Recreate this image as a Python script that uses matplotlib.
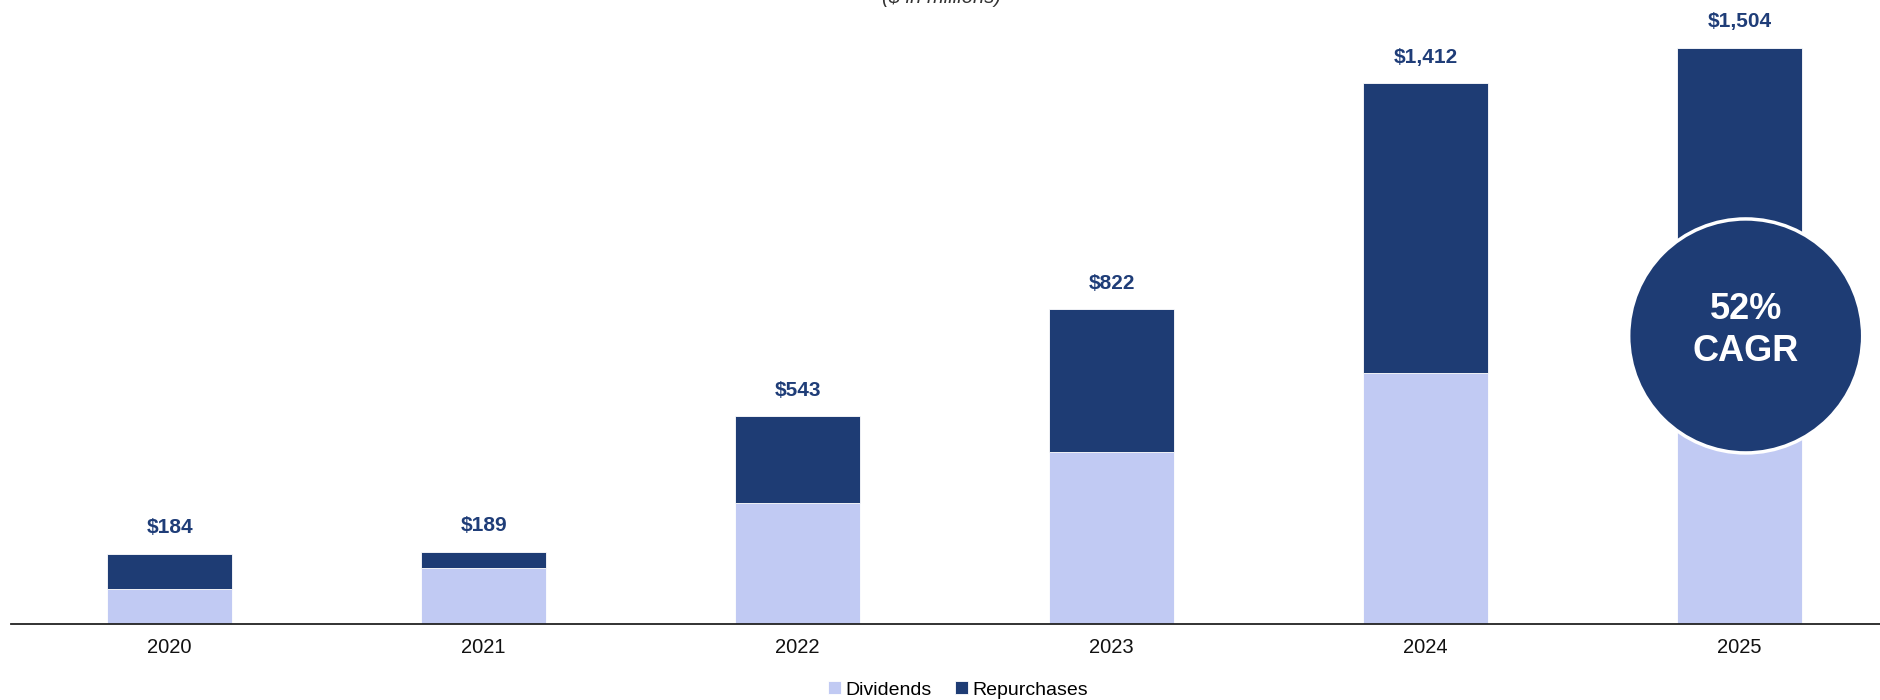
import matplotlib
matplotlib.use("Agg")
import matplotlib.pyplot as plt
from matplotlib.patches import Circle
from matplotlib.transforms import IdentityTransform

plt.rcParams['font.family'] = ['Liberation Sans', 'DejaVu Sans']

years = ["2020", "2021", "2022", "2023", "2024", "2025"]
totals = [184, 189, 543, 822, 1412, 1504]
dividends = [91, 147, 316, 449, 655, 700]
repurchases = [t - d for t, d in zip(totals, dividends)]
total_labels = ["$184", "$189", "$543", "$822", "$1,412", "$1,504"]
subtitle = "($ in millions)"

light = "#C1CAF3"
dark = "#1E3C74"

W, H = 1881, 700
fig = plt.figure(figsize=(W / 100, H / 100), dpi=100)
ax = fig.add_axes([11 / W, 1 - 624 / H, 1 - 11 / W, 624 / H])

x = list(range(len(years)))
bw = 0.4
ax.bar(x, dividends, width=bw, color=light, edgecolor="white", linewidth=0.6, label="Dividends")
ax.bar(x, repurchases, width=bw, bottom=dividends, color=dark, edgecolor="white", linewidth=0.6, label="Repurchases")

for xi, t, lab in zip(x, totals, total_labels):
    ax.annotate(lab, (xi, t), xytext=(0, 26), textcoords="offset pixels",
                ha="center", va="center", fontsize=15, fontweight="bold", color="#1F3D78")

ax.set_xlim(-0.505, 5.45)
ax.set_ylim(0, 1629)
ax.set_xticks(x)
ax.set_xticklabels(years, fontsize=14.5, color="#111111")
ax.tick_params(axis="x", length=0, pad=10)
ax.set_yticks([])
for s in ["top", "right", "left"]:
    ax.spines[s].set_visible(False)
ax.spines["bottom"].set_color("#222222")
ax.spines["bottom"].set_linewidth(1.3)

# CAGR circle over the last bar
cx, cy = ax.transData.transform((x[-1], totals[-1] / 2))
cx += 6
r = 117
circ = Circle((cx, cy), r, transform=IdentityTransform(), facecolor=dark,
              edgecolor="white", linewidth=2.5, zorder=5)
fig.add_artist(circ)
fig.text(cx / W, (cy + 26) / H, "52%", ha="center", va="center", fontsize=26,
         fontweight="bold", color="white", zorder=6)
fig.text(cx / W, (cy - 16) / H, "CAGR", ha="center", va="center", fontsize=26,
         fontweight="bold", color="white", zorder=6)

fig.text(942 / W, 1 - 3 / H, subtitle, ha="center", va="baseline", fontsize=14.5,
         style="italic", color="#333333")

leg = fig.legend(loc="center", bbox_to_anchor=(958 / W, 1 - 690 / H), ncol=2,
                 frameon=False, fontsize=14, handlelength=0.65, handleheight=0.65,
                 handletextpad=0.25, columnspacing=1.2)

fig.savefig("out.png", dpi=100)
